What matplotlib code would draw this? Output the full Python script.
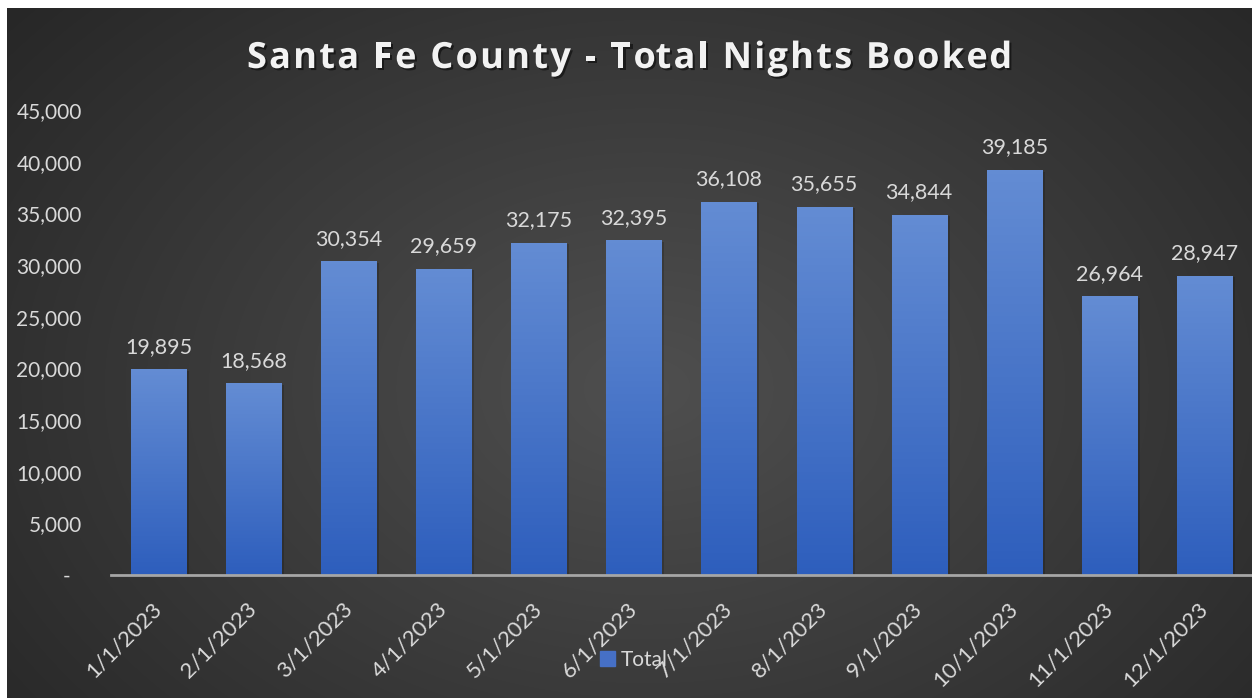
import numpy as np
import matplotlib
matplotlib.use("Agg")
import matplotlib.pyplot as plt
import matplotlib.patheffects as pe
from matplotlib.ticker import FuncFormatter, MultipleLocator

# data
months = ["1/1/2023", "2/1/2023", "3/1/2023", "4/1/2023", "5/1/2023", "6/1/2023",
          "7/1/2023", "8/1/2023", "9/1/2023", "10/1/2023", "11/1/2023", "12/1/2023"]
nights = [19895, 18568, 30354, 29659, 32175, 32395,
          36108, 35655, 34844, 39185, 26964, 28947]
title = "Santa Fe County - Total Nights Booked"

W, H = 1252, 698
fig = plt.figure(figsize=(W / 100, H / 100), dpi=100, facecolor="white")

# dark radial background (white strip on top / left like the screenshot)
bg = fig.add_axes([7 / W, 0, 1 - 7 / W, 1 - 8 / H])
yy, xx = np.mgrid[0:690, 0:1245]
r = np.hypot((xx - 640) / 850, (yy - 380) / 600)
v = 0.31 - 0.16 * np.clip(r, 0, 1)
bg.imshow(np.dstack([v, v, v]), extent=[0, 1, 0, 1], aspect="auto", origin="upper")
bg.axis("off")

ax = fig.add_axes([111 / W, 1 - 575 / H, 1 - 111 / W, (575 - 110) / H])
ax.patch.set_alpha(0)
x = np.arange(len(months))
bars = ax.bar(x, nights, width=0.58, color="#4670c6", zorder=2)

# soft shadow + vertical gradient on each bar
grad = np.linspace(0, 1, 100).reshape(-1, 1)
top = np.array([0.39, 0.55, 0.83])
bot = np.array([0.18, 0.37, 0.74])
cols = (top * (1 - grad)[..., None] + bot * grad[..., None])
for b in bars:
    x0, w, h = b.get_x(), b.get_width(), b.get_height()
    ax.add_patch(plt.Rectangle((x0 + 0.03, 0), w, h - 150, color="black",
                               alpha=0.18, zorder=1, lw=0))
    im = ax.imshow(cols, extent=[x0, x0 + w, 0, h], aspect="auto",
                   origin="upper", zorder=3)
    im.set_clip_path(b)

ax.set_xlim(-0.5, 11.5)
ax.set_ylim(0, 45000)
ax.yaxis.set_major_locator(MultipleLocator(5000))
ax.yaxis.set_major_formatter(FuncFormatter(lambda v, p: "-  " if v == 0 else f"{v:,.0f}"))

txt = "#d9d9d9"
font = "Lato"
fs = 15
for s in ["top", "right", "left"]:
    ax.spines[s].set_visible(False)
ax.spines["bottom"].set_color("#a6a6a6")
ax.spines["bottom"].set_linewidth(2)
ax.spines["bottom"].set_zorder(5)

ax.tick_params(axis="y", length=0, pad=21, labelsize=fs, labelcolor=txt)
ax.tick_params(axis="x", length=0, pad=22, labelsize=16, labelcolor=txt)
ax.set_xticks(x)
ax.set_xticklabels(months, rotation=45, ha="right", va="center",
                   rotation_mode="anchor", fontfamily=font)
for t in ax.get_yticklabels():
    t.set_fontfamily(font)

for b, val in zip(bars, nights):
    ax.annotate(f"{val:,}", (b.get_x() + b.get_width() / 2, val),
                xytext=(0, 9), textcoords="offset points", ha="center",
                va="bottom", fontsize=15.5, color=txt, fontfamily=font)

# title with letter spacing: place characters one by one
tkw = dict(fontsize=26, fontweight="bold", color="#f2f2f2", fontfamily="Open Sans",
           va="center", ha="left",
           path_effects=[pe.withSimplePatchShadow(offset=(1.5, -1.5),
                                                  shadow_rgbFace="black", alpha=0.5)])
rend = fig.canvas.get_renderer()
probe = fig.text(0, 0, "", **tkw)
def width_of(s):
    probe.set_text(s.replace(" ", "\u00a0") + "|")
    wa = probe.get_window_extent(rend).width
    probe.set_text("|")
    return wa - probe.get_window_extent(rend).width
full_w = width_of(title)
target_w = 1012 - 247
gap = (target_w - full_w) / (len(title) - 1)
x_start = 247
for i, ch in enumerate(title):
    if ch == " ":
        continue
    px = x_start + width_of(title[:i]) + i * gap
    fig.text(px / W, 1 - 59 / H, ch, **tkw)
probe.remove()

leg = fig.legend([plt.Rectangle((0, 0), 1, 1, color="#4670c6")], ["Total"],
                 loc="center", bbox_to_anchor=(634 / W, 1 - 660 / H),
                 frameon=False, handlelength=0.7, handleheight=0.7,
                 handletextpad=0.3, prop={"family": font, "size": fs})
for t in leg.get_texts():
    t.set_color(txt)

fig.savefig("out.png", dpi=100, facecolor=fig.get_facecolor())
